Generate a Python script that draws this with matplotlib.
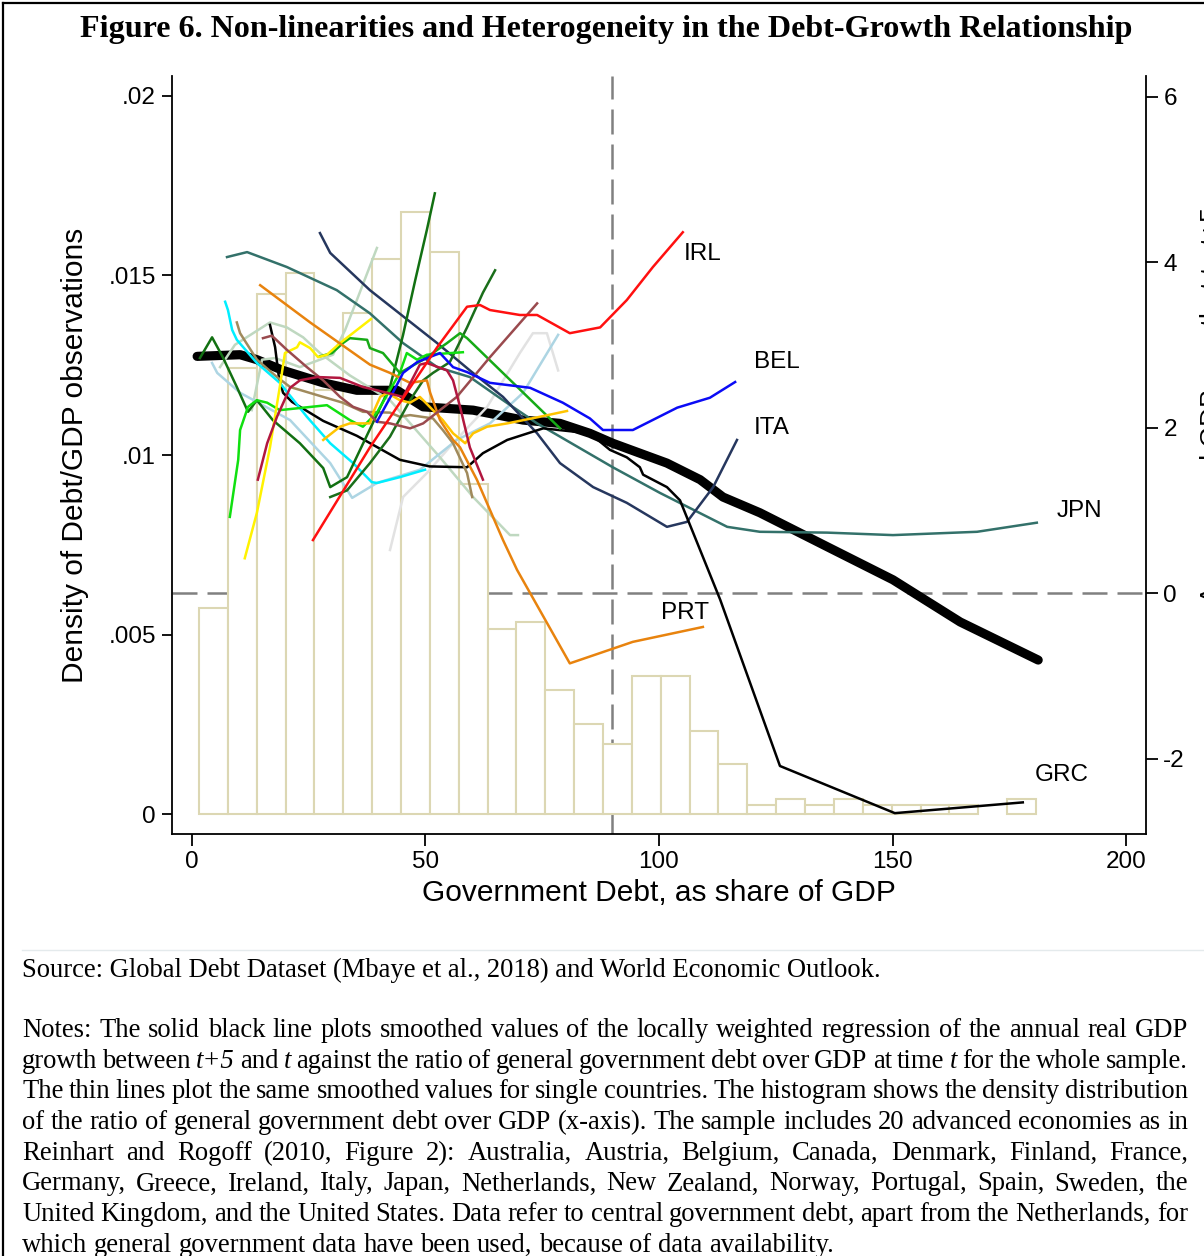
import matplotlib
matplotlib.use("Agg")
import matplotlib.pyplot as plt
from matplotlib.lines import Line2D

FIG_W, FIG_H = 1204, 1256
DPI = 100

# ---------------- histogram of debt/GDP (density) ----------------
bin_start = 1.5
bin_width = 6.18
density = [0.00575, 0.01242, 0.01448, 0.01507, 0.01181, 0.01396, 0.01546, 0.01677,
           0.01565, 0.00919, 0.00515, 0.00535, 0.00345, 0.00251, 0.00195, 0.00384,
           0.00384, 0.00231, 0.00139, 0.00025, 0.00042, 0.00025, 0.00042, 0.00025,
           0.00025, 0.00025, 0.00025, 0.0, 0.00042]

# ---------------- whole-sample smoothed growth ----------------
all_debt = [1.1, 10.3, 13.9, 19.5, 28.1, 35.3, 43.9, 49.5, 60.2, 70.9, 78.8, 85.2,
            90.1, 101.7, 108.8, 113.7, 121.6, 136.0, 150.1, 164.5, 181.2]
all_growth = [2.86, 2.88, 2.82, 2.69, 2.54, 2.45, 2.45, 2.25, 2.21, 2.09, 2.05, 1.93,
              1.81, 1.57, 1.37, 1.16, 0.97, 0.56, 0.16, -0.35, -0.81]

# ---------------- single-country smoothed growth ----------------
irl_debt = [25.9, 38.1, 52.5, 58.9, 61.7, 63.8, 70.2, 73.9, 80.9, 87.4, 93.1, 98.7, 105.1]
irl_growth = [0.64, 1.76, 2.97, 3.46, 3.48, 3.42, 3.36, 3.36, 3.14, 3.21, 3.54, 3.94, 4.36]

bel_debt = [39.6, 43.0, 45.2, 48.2, 53.1, 55.9, 58.9, 63.8, 72.4, 79.4, 85.2, 88.0,
            94.4, 103.9, 110.9, 116.3]
bel_growth = [2.07, 2.42, 2.66, 2.79, 2.90, 2.73, 2.67, 2.54, 2.48, 2.30, 2.11, 1.97,
              1.97, 2.24, 2.36, 2.55]

ita_debt = [27.4, 29.6, 38.1, 52.5, 59.5, 66.6, 73.9, 78.8, 85.9, 93.1, 101.7, 106.0,
            111.6, 116.7]
ita_growth = [4.35, 4.11, 3.66, 3.02, 2.69, 2.37, 1.93, 1.57, 1.28, 1.09, 0.80, 0.86,
              1.28, 1.85]

jpn_debt = [7.5, 11.8, 20.3, 31.0, 38.1, 45.2, 52.5, 59.5, 66.6, 73.9, 78.8, 90.1,
            100.2, 114.6, 121.6, 136.0, 150.1, 168.1, 180.9]
jpn_growth = [4.06, 4.12, 3.94, 3.66, 3.38, 3.02, 2.73, 2.61, 2.33, 2.05, 1.89, 1.52,
              1.21, 0.80, 0.74, 0.73, 0.70, 0.74, 0.85]

grc_debt = [16.7, 17.8, 18.6, 19.5, 21.4, 28.1, 35.3, 44.5, 50.9, 58.9, 62.3, 67.5,
            75.2, 85.2, 89.5, 93.1, 95.9, 96.6, 101.7, 104.5, 107.3, 113.1, 125.9,
            150.5, 177.9]
grc_growth = [3.24, 2.97, 2.61, 2.42, 2.31, 2.08, 1.90, 1.61, 1.53, 1.52, 1.69, 1.85,
              1.99, 1.93, 1.73, 1.64, 1.52, 1.43, 1.28, 1.12, 0.73, -0.08, -2.09,
              -2.66, -2.53]

prt_debt = [14.6, 25.3, 38.1, 42.4, 46.7, 50.3, 51.0, 53.1, 55.9, 57.4, 61.0, 66.6,
            69.6, 80.9, 94.4, 109.4]
prt_growth = [3.72, 3.27, 2.76, 2.66, 2.54, 2.57, 2.42, 2.09, 1.85, 1.76, 1.37, 0.64,
              0.28, -0.85, -0.59, -0.41]

dkgreen_a_debt = [1.7, 4.3, 6.6, 9.6, 12.0, 13.9, 17.3, 23.1, 28.1, 29.6, 33.2, 37.0,
                  42.4, 45.2, 47.8, 50.3, 52.0]
dkgreen_a_growth = [2.84, 3.09, 2.85, 2.49, 2.19, 2.33, 2.09, 1.81, 1.51, 1.28, 1.40,
                    1.85, 2.49, 3.12, 3.78, 4.39, 4.83]

dkgreen_b_debt = [29.6, 33.2, 38.1, 42.4, 46.7, 49.5, 51.6, 55.2, 58.9, 62.3, 64.9]
dkgreen_b_growth = [1.16, 1.24, 1.57, 1.89, 2.33, 2.57, 2.66, 2.79, 3.21, 3.63, 3.90]

lime_debt = [8.1, 9.9, 10.3, 12.0, 13.9, 16.1, 18.8, 28.9, 33.8, 36.6, 39.6, 44.5,
             46.0, 48.2, 50.3, 58.0]
lime_growth = [0.92, 1.61, 1.97, 2.25, 2.33, 2.30, 2.21, 2.27, 2.09, 2.01, 2.18, 2.66,
               2.90, 2.82, 2.88, 2.91]

green_debt = [27.4, 30.0, 32.3, 33.8, 37.5, 38.1, 40.9, 44.5, 49.5, 54.6, 57.4, 58.9, 78.8]
green_growth = [2.86, 2.90, 3.02, 3.08, 3.06, 2.96, 2.90, 2.66, 2.82, 3.02, 3.14, 3.08, 1.99]

cyan_debt = [7.1, 7.7, 8.6, 9.6, 13.9, 18.8, 24.6, 29.6, 34.5, 38.5, 39.6, 44.5, 49.9]
cyan_growth = [3.52, 3.42, 3.18, 3.06, 2.78, 2.54, 2.13, 1.81, 1.57, 1.34, 1.33, 1.40, 1.49]

yellow_debt = [11.3, 13.9, 16.7, 18.8, 19.9, 22.5, 23.1, 25.3, 27.0, 28.9, 31.7, 38.3]
yellow_growth = [0.42, 0.97, 1.76, 2.49, 2.90, 2.97, 3.03, 2.96, 2.85, 2.88, 3.02, 3.31]

gold_debt = [28.1, 31.7, 33.8, 38.1, 38.8, 40.3, 41.8, 44.5, 46.7, 48.8, 51.6, 53.7,
             55.9, 58.5, 60.2, 63.2, 67.5, 74.5, 80.3]
gold_growth = [1.85, 2.01, 2.05, 2.05, 2.18, 2.37, 2.42, 2.33, 2.30, 2.37, 2.21, 2.09,
               1.93, 1.81, 1.93, 2.01, 2.05, 2.13, 2.20]

tan_debt = [9.6, 10.3, 13.9, 18.2, 21.0, 28.1, 32.3, 36.6, 42.4, 44.5, 46.7, 51.6,
            53.7, 55.9, 58.9, 60.0]
tan_growth = [3.27, 3.14, 2.82, 2.61, 2.49, 2.37, 2.30, 2.19, 2.18, 2.13, 2.15, 2.11,
              1.97, 1.81, 1.45, 1.16]

maroon_debt = [15.2, 17.1, 20.3, 24.6, 28.1, 31.7, 34.5, 37.5, 39.6, 42.4, 46.7, 49.5,
               53.1, 56.7, 63.8, 73.9]
maroon_growth = [3.08, 3.11, 2.94, 2.73, 2.57, 2.37, 2.25, 2.19, 2.07, 2.05, 1.99, 2.05,
                 2.21, 2.37, 2.85, 3.50]

crimson_debt = [14.1, 16.1, 18.2, 21.0, 23.1, 26.8, 31.7, 36.6, 39.6, 45.2, 48.8, 50.3,
                54.6, 55.9, 57.4, 59.5, 62.3]
crimson_growth = [1.37, 1.81, 2.13, 2.48, 2.57, 2.61, 2.60, 2.49, 2.45, 2.37, 2.76, 2.78,
                  2.69, 2.57, 2.25, 1.76, 1.37]

ltblue_debt = [4.3, 5.4, 10.3, 21.0, 29.6, 34.3, 39.6, 48.8, 56.7, 63.8, 70.9, 78.4]
ltblue_growth = [2.78, 2.66, 2.42, 2.09, 1.57, 1.15, 1.33, 1.49, 1.85, 2.05, 2.42, 3.12]

ltgray_debt = [42.4, 45.2, 50.3, 55.9, 63.2, 70.2, 73.0, 76.0, 78.4]
ltgray_growth = [0.52, 1.16, 1.45, 1.81, 2.25, 2.90, 3.14, 3.14, 2.69]

sage_a_debt = [6.0, 9.2, 16.7, 20.3, 23.8, 27.4, 33.8, 42.4, 53.1, 60.2, 68.1, 69.8]
sage_a_growth = [2.73, 3.00, 3.27, 3.21, 3.09, 2.90, 2.63, 2.33, 1.64, 1.16, 0.70, 0.70]

sage_b_debt = [12.8, 15.0, 17.8, 23.1, 27.4, 30.2, 32.8, 35.3, 39.6]
sage_b_growth = [2.21, 2.82, 2.84, 2.73, 2.82, 2.88, 3.18, 3.54, 4.17]

# country tags placed at the end of the labelled curves
tag_names = ["IRL", "BEL", "ITA", "JPN", "PRT", "GRC"]
tag_debt = [105.4, 120.3, 120.3, 185.2, 100.4, 180.5]
tag_growth = [4.10, 2.79, 1.99, 0.99, -0.24, -2.20]

# axis ticks
x_ticks = [0, 50, 100, 150, 200]
x_tick_labels = ["0", "50", "100", "150", "200"]
dens_ticks = [0, 0.005, 0.01, 0.015, 0.02]
dens_tick_labels = ["0", ".005", ".01", ".015", ".02"]
growth_ticks = [-2, 0, 2, 4, 6]
growth_tick_labels = ["-2", "0", "2", "4", "6"]
debt_threshold = 90

# ---------------- styling table built from the arrays ----------------
thin_lines = [
    (ltgray_debt, ltgray_growth, "#E2E2E2"),
    (sage_a_debt, sage_a_growth, "#BFD8C0"),
    (sage_b_debt, sage_b_growth, "#BFD8C0"),
    (ltblue_debt, ltblue_growth, "#ADD5E3"),
    (jpn_debt, jpn_growth, "#33716A"),
    (ita_debt, ita_growth, "#26375E"),
    (grc_debt, grc_growth, "#000000"),
    (tan_debt, tan_growth, "#A08A5C"),
    (cyan_debt, cyan_growth, "#00EEFF"),
    (dkgreen_a_debt, dkgreen_a_growth, "#127012"),
    (dkgreen_b_debt, dkgreen_b_growth, "#1A6E1A"),
    (lime_debt, lime_growth, "#10E010"),
    (green_debt, green_growth, "#16AA16"),
    (yellow_debt, yellow_growth, "#FFF200"),
    (gold_debt, gold_growth, "#FFC400"),
    (prt_debt, prt_growth, "#E8830E"),
    (maroon_debt, maroon_growth, "#9A4A4E"),
    (bel_debt, bel_growth, "#0B0BF5"),
    (crimson_debt, crimson_growth, "#B2173F"),
    (irl_debt, irl_growth, "#FF1010"),
]

# ---------------- figure ----------------
plt.rcParams["font.family"] = ["Liberation Sans", "DejaVu Sans"]
fig = plt.figure(figsize=(FIG_W / DPI, FIG_H / DPI), dpi=DPI)
fig.patch.set_facecolor("white")


def fx(px):
    return px / FIG_W


def fy(py):
    return 1 - py / FIG_H


ax_l, ax_r, ax_t, ax_b = 172, 1146, 76, 834
ax = fig.add_axes([fx(ax_l), fy(ax_b), (ax_r - ax_l) / FIG_W, (ax_b - ax_t) / FIG_H])
ax2 = ax.twinx()

ax.set_xlim(-4.28, 204.28)
ax.set_ylim(-0.000557, 0.020557)
ax2.set_ylim(-2.912, 6.248)

gray = "#808080"
dash_lw = 1.8
dash_pat = (25 * 0.72 / dash_lw, 10 * 0.72 / dash_lw)

# reference lines (behind the white histogram bars)
ax.axvline(debt_threshold, color=gray, lw=dash_lw, dashes=dash_pat, zorder=1)
ax.plot([-4.28, 204.28], [0, 0], transform=ax2.transData, color=gray, lw=dash_lw,
        dashes=dash_pat, zorder=1, clip_on=False)

# histogram bars
lefts = [bin_start + i * bin_width for i, d in enumerate(density) if d > 0]
heights = [d for d in density if d > 0]
ax.bar(lefts, heights, width=bin_width, align="edge", facecolor="white",
       edgecolor="#DCD7B3", linewidth=1.5, zorder=2)

# smoothed growth curves
ax2.plot(all_debt, all_growth, color="black", lw=6.6, solid_capstyle="round",
         solid_joinstyle="round", zorder=2)
for xs, ys, col in thin_lines:
    ax2.plot(xs, ys, color=col, lw=1.8, solid_joinstyle="round", zorder=3)

for name, xv, yv in zip(tag_names, tag_debt, tag_growth):
    ax2.text(xv, yv, name, fontsize=17.5, ha="left", va="center", color="black", zorder=4)

# spines and ticks
for a in (ax, ax2):
    a.spines["top"].set_visible(False)
    for s in a.spines.values():
        s.set_linewidth(1.3)
ax.spines["right"].set_visible(False)
ax2.spines["left"].set_visible(False)
ax2.spines["bottom"].set_visible(False)

ax.set_xticks(x_ticks)
ax.set_xticklabels(x_tick_labels)
ax.set_yticks(dens_ticks)
ax.set_yticklabels(dens_tick_labels)
ax2.set_yticks(growth_ticks)
ax2.set_yticklabels(growth_tick_labels)
ax.tick_params(axis="x", direction="out", length=8.5, width=1.3, labelsize=17.5, pad=4)
ax.tick_params(axis="y", direction="out", length=7.5, width=1.3, labelsize=17.5, pad=4)
ax2.tick_params(axis="y", direction="out", length=8.5, width=1.3, labelsize=17.5, pad=4)

xl = ax.set_xlabel("Government Debt, as share of GDP", fontsize=19)
yl = ax.set_ylabel("Density of Debt/GDP observations", fontsize=19)
ax.xaxis.set_label_coords(0.5, (ax_b - 893) / (ax_b - ax_t), transform=ax.transAxes)
ax.yaxis.set_label_coords((75 - ax_l) / (ax_r - ax_l), 0.5, transform=ax.transAxes)
xl.set_va("center")
yl.set_va("center")

renderer = fig.canvas.get_renderer()


def fit_width(t, target):
    w = t.get_window_extent(renderer).width
    t.set_fontsize(t.get_fontsize() * target / w)


def fit_height(t, target):
    h = t.get_window_extent(renderer).height
    t.set_fontsize(t.get_fontsize() * target / h)


fit_width(xl, 474)
fit_height(yl, 454)

# right-hand axis title, running off the page edge
ax2.text(fx(1200), fy(405), "Average real GDP growth, t to t+5",
         transform=fig.transFigure, rotation=90, ha="left", va="center", fontsize=19)

# title
serif = ["Liberation Serif", "DejaVu Serif"]
title = fig.text(fx(606), fy(37), "Figure 6. Non-linearities and Heterogeneity in the Debt-Growth Relationship",
                 family=serif, weight="bold", fontsize=21, ha="center", va="baseline")
fit_width(title, 1048)

# page frame and separator
fig.add_artist(Line2D([fx(3), fx(3)], [0, fy(3)], color="black", lw=1.6))
fig.add_artist(Line2D([fx(3), 1], [fy(3), fy(3)], color="black", lw=1.6))
fig.add_artist(Line2D([fx(22), 1], [fy(950), fy(950)], color="#E4EAEC", lw=1.0))

# source line
source = fig.text(fx(22), fy(977), "Source: Global Debt Dataset (Mbaye et al., 2018) and World Economic Outlook.",
                  family=serif, fontsize=17.5, ha="left", va="baseline")
fit_width(source, 862)
note_size = source.get_fontsize()

notes_lines = [
    "Notes: The solid black line plots smoothed values of the locally weighted regression of the annual real GDP",
    "growth between *t+5* and *t* against the ratio of general government debt over GDP at time *t* for the whole sample.",
    "The thin lines plot the same smoothed values for single countries. The histogram shows the density distribution",
    "of the ratio of general government debt over GDP (x-axis). The sample includes 20 advanced economies as in",
    "Reinhart and Rogoff (2010, Figure 2): Australia, Austria, Belgium, Canada, Denmark, Finland, France,",
    "Germany, Greece, Ireland, Italy, Japan, Netherlands, New Zealand, Norway, Portugal, Spain, Sweden, the",
    "United Kingdom, and the United States. Data refer to central government debt, apart from the Netherlands, for",
    "which general government data have been used, because of data availability.",
]

left_px, right_px = 22, 1188
first_base, line_step = 1037, 30.7
space_t = fig.text(0, 0, "a a", family=serif, fontsize=note_size)
aa_t = fig.text(0, 0, "aa", family=serif, fontsize=note_size)
space_w = space_t.get_window_extent(renderer).width - aa_t.get_window_extent(renderer).width
space_t.remove()
aa_t.remove()

for i, line in enumerate(notes_lines):
    base = first_base + i * line_step
    words = line.split(" ")
    items = []
    for w in words:
        italic = w.startswith("*") and w.endswith("*")
        txt = w.strip("*")
        t = fig.text(0, fy(base), txt, family=serif, fontsize=note_size,
                     style="italic" if italic else "normal", ha="left", va="baseline")
        items.append((t, t.get_window_extent(renderer).width))
    total = sum(wd for _, wd in items)
    last = i == len(notes_lines) - 1
    gap = space_w if last else (right_px - left_px - total) / (len(items) - 1)
    x = left_px
    for t, wd in items:
        t.set_x(fx(x))
        x += wd + gap

fig.savefig("out.png", dpi=DPI, facecolor="white")
